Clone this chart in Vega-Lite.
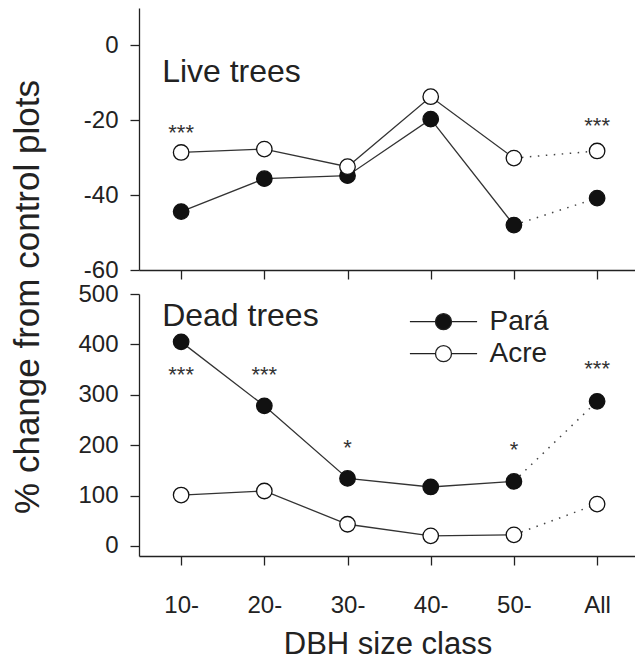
{
  "$schema": "https://vega.github.io/schema/vega-lite/v6.json",
  "background": "white",
  "padding": {"left": 9, "top": 8, "right": 0, "bottom": 0},
  "spacing": 24,
  "bounds": "flush",
  "config": {
    "font": "Liberation Sans",
    "view": {"stroke": null},
    "axis": {
      "grid": false,
      "domainColor": "#222",
      "domainWidth": 1.3,
      "tickColor": "#222",
      "tickWidth": 1.3,
      "tickSize": 9,
      "labelColor": "#222",
      "labelFont": "Liberation Sans",
      "labelFontSize": 24,
      "titleFont": "Liberation Sans",
      "titleColor": "#222",
      "titleFontWeight": "normal"
    }
  },
  "datasets": {
    "pts": [
      {"panel": "Live", "site": "Pará", "cls": "10-", "value": -44.4},
      {"panel": "Live", "site": "Pará", "cls": "20-", "value": -35.6},
      {"panel": "Live", "site": "Pará", "cls": "30-", "value": -34.8},
      {"panel": "Live", "site": "Pará", "cls": "40-", "value": -19.7},
      {"panel": "Live", "site": "Pará", "cls": "50-", "value": -48.0},
      {"panel": "Live", "site": "Pará", "cls": "All", "value": -40.8},
      {"panel": "Live", "site": "Acre", "cls": "10-", "value": -28.6},
      {"panel": "Live", "site": "Acre", "cls": "20-", "value": -27.7},
      {"panel": "Live", "site": "Acre", "cls": "30-", "value": -32.4},
      {"panel": "Live", "site": "Acre", "cls": "40-", "value": -13.7},
      {"panel": "Live", "site": "Acre", "cls": "50-", "value": -30.1},
      {"panel": "Live", "site": "Acre", "cls": "All", "value": -28.2},
      {"panel": "Dead", "site": "Pará", "cls": "10-", "value": 405},
      {"panel": "Dead", "site": "Pará", "cls": "20-", "value": 278},
      {"panel": "Dead", "site": "Pará", "cls": "30-", "value": 134},
      {"panel": "Dead", "site": "Pará", "cls": "40-", "value": 117},
      {"panel": "Dead", "site": "Pará", "cls": "50-", "value": 128},
      {"panel": "Dead", "site": "Pará", "cls": "All", "value": 287},
      {"panel": "Dead", "site": "Acre", "cls": "10-", "value": 101},
      {"panel": "Dead", "site": "Acre", "cls": "20-", "value": 109},
      {"panel": "Dead", "site": "Acre", "cls": "30-", "value": 43},
      {"panel": "Dead", "site": "Acre", "cls": "40-", "value": 20},
      {"panel": "Dead", "site": "Acre", "cls": "50-", "value": 22},
      {"panel": "Dead", "site": "Acre", "cls": "All", "value": 83}
    ],
    "stars": [
      {"panel": "Live", "cls": "10-", "value": -23.5, "label": "***"},
      {"panel": "Live", "cls": "All", "value": -21.4, "label": "***"},
      {"panel": "Dead", "cls": "10-", "value": 339, "label": "***"},
      {"panel": "Dead", "cls": "20-", "value": 339, "label": "***"},
      {"panel": "Dead", "cls": "30-", "value": 195, "label": "*"},
      {"panel": "Dead", "cls": "50-", "value": 190, "label": "*"},
      {"panel": "Dead", "cls": "All", "value": 351, "label": "***"}
    ],
    "heads": [
      {"panel": "Live", "cls": "10-", "value": -9.7, "label": "Live trees"},
      {"panel": "Dead", "cls": "10-", "value": 436.5, "label": "Dead trees"}
    ]
  },
  "resolve": {"scale": {"fill": "independent"}, "legend": {"fill": "independent"}},
  "vconcat": [
    {
      "width": 497,
      "height": 262,
      "encoding": {
        "x": {"field": "cls", "type": "ordinal", "scale": {"type": "point", "domain": ["10-", "20-", "30-", "40-", "50-", "All"], "padding": 0.487, "align": 0.52}, "axis": {"labels": false, "title": null}},
        "y": {"field": "value", "type": "quantitative", "scale": {"domain": [-60, 10], "nice": false, "zero": false}, "axis": {"values": [-60, -40, -20, 0], "title": null, "labelPadding": 12, "labelExpr": "'' + datum.value"}}
      },
      "layer": [
        {"mark": {"type": "rule", "strokeDash": [12, 7], "stroke": "#222", "strokeWidth": 1.3}, "encoding": {"x": null, "y": {"datum": 0}}},
        {"data": {"name": "pts"}, "transform": [{"filter": "datum.panel == 'Live' && datum.cls != 'All'"}], "mark": {"type": "line", "stroke": "#333", "strokeWidth": 1.3}, "encoding": {"detail": {"field": "site"}}},
        {"data": {"name": "pts"}, "transform": [{"filter": "datum.panel == 'Live' && (datum.cls == '50-' || datum.cls == 'All')"}], "mark": {"type": "line", "stroke": "#444", "strokeWidth": 1.5, "strokeDash": [1.5, 6.5]}, "encoding": {"detail": {"field": "site"}}},
        {"data": {"name": "pts"}, "transform": [{"filter": "datum.panel == 'Live'"}], "mark": {"type": "point", "size": 240, "stroke": "#111", "strokeWidth": 1.3, "opacity": 1, "fillOpacity": 1}, "encoding": {"fill": {"field": "site", "type": "nominal", "scale": {"domain": ["Pará", "Acre"], "range": ["#111", "white"]}, "legend": null}}},
        {"data": {"name": "stars"}, "transform": [{"filter": "datum.panel == 'Live'"}], "mark": {"type": "text", "fontSize": 22, "color": "#333", "baseline": "middle", "align": "center"}, "encoding": {"text": {"field": "label"}}},
        {"data": {"name": "heads"}, "transform": [{"filter": "datum.panel == 'Live'"}], "mark": {"type": "text", "fontSize": 32, "color": "#222", "baseline": "alphabetic", "align": "left", "dx": -19}, "encoding": {"text": {"field": "label"}}}
      ]
    },
    {
      "width": 497,
      "height": 262,
      "encoding": {
        "x": {"field": "cls", "type": "ordinal", "scale": {"type": "point", "domain": ["10-", "20-", "30-", "40-", "50-", "All"], "padding": 0.487, "align": 0.52}, "axis": {"labelAngle": 0, "labelPadding": 28, "title": "DBH size class", "titleFontSize": 31, "titleBaseline": "alphabetic", "titleY": 97}},
        "y": {"field": "value", "type": "quantitative", "scale": {"domain": [-20, 500], "nice": false, "zero": false}, "axis": {"values": [0, 100, 200, 300, 400, 500], "labelPadding": 12, "title": "% change from control plots", "titleFontSize": 35, "titleBaseline": "alphabetic", "titleAlign": "center", "titleAngle": -90, "titleX": -101, "titleY": 2.5}}
      },
      "layer": [
        {"mark": {"type": "rule", "strokeDash": [12, 7], "stroke": "#222", "strokeWidth": 1.3}, "encoding": {"x": null, "y": {"datum": 0}}},
        {"data": {"name": "pts"}, "transform": [{"filter": "datum.panel == 'Dead' && datum.cls != 'All'"}], "mark": {"type": "line", "stroke": "#333", "strokeWidth": 1.3}, "encoding": {"detail": {"field": "site"}}},
        {"data": {"name": "pts"}, "transform": [{"filter": "datum.panel == 'Dead' && (datum.cls == '50-' || datum.cls == 'All')"}], "mark": {"type": "line", "stroke": "#444", "strokeWidth": 1.5, "strokeDash": [1.5, 6.5]}, "encoding": {"detail": {"field": "site"}}},
        {"data": {"name": "pts"}, "transform": [{"filter": "datum.panel == 'Dead'"}], "mark": {"type": "point", "size": 240, "stroke": "#111", "strokeWidth": 1.3, "opacity": 1, "fillOpacity": 1}, "encoding": {"fill": {"field": "site", "type": "nominal", "scale": {"domain": ["Pará", "Acre"], "range": ["#111", "white"]}, "legend": {"title": null, "orient": "none", "legendX": 290.5, "legendY": 13.7, "symbolType": "M-4.2,0L-1,0M1,0L4.2,0M1,0A1,1,0,1,1,-1,0A1,1,0,1,1,1,0Z", "symbolSize": 256, "symbolStrokeColor": "#222", "symbolStrokeWidth": 1.3, "symbolOpacity": 1, "labelFontSize": 28, "labelFont": "Liberation Sans", "labelColor": "#222", "labelOffset": 32, "rowPadding": 4, "padding": 0}}}},
        {"data": {"name": "stars"}, "transform": [{"filter": "datum.panel == 'Dead'"}], "mark": {"type": "text", "fontSize": 22, "color": "#333", "baseline": "middle", "align": "center"}, "encoding": {"text": {"field": "label"}}},
        {"data": {"name": "heads"}, "transform": [{"filter": "datum.panel == 'Dead'"}], "mark": {"type": "text", "fontSize": 32, "color": "#222", "baseline": "alphabetic", "align": "left", "dx": -19}, "encoding": {"text": {"field": "label"}}}
      ]
    }
  ]
}
